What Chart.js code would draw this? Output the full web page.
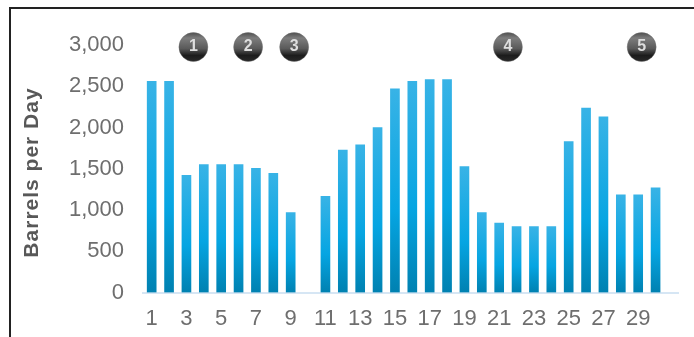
<!DOCTYPE html>
<html>
<head>
<meta charset="utf-8">
<script src="https://cdn.jsdelivr.net/npm/chart.js@4"></script>
<style>
    html, body { margin: 0; padding: 0; background: #fff; overflow: hidden; }
    #wrap { position: relative; width: 694px; height: 337px; overflow: hidden; }
    #frame { position: absolute; left: 9px; top: 7px; width: 800px; height: 500px; border: 2px solid #222; box-sizing: border-box; }
    #chart { position: absolute; left: 0; top: 0; }
</style>
</head>
<body>
<div id="wrap">
    <div id="frame"></div>
    <canvas id="chart" width="694" height="337"></canvas>
</div>
<script>
// Barrels per day by day of month, with five numbered event markers

const days = [1, 2, 3, 4, 5, 6, 7, 8, 9, 10, 11, 12, 13, 14, 15, 16,
    17, 18, 19, 20, 21, 22, 23, 24, 25, 26, 27, 28, 29, 30];
const barrels = [2560, 2560, 1420, 1550, 1550, 1550, 1505, 1445, 970, null, 1165, 1725,
    1790, 2000, 2470, 2560, 2580, 2580, 1525, 970, 840, 800, 800, 800, 1830, 2235, 2130,
    1185, 1185, 1270];
const xTicks = [1, 3, 5, 7, 9, 11, 13, 15, 17, 19, 21, 23, 25, 27, 29];
const yTicks = [0, 500, 1000, 1500, 2000, 2500, 3000];
const yTitle = 'Barrels per Day';
const eventLabels = ['1', '2', '3', '4', '5'];
const eventDays = [3.4, 6.55, 9.2, 21.5, 29.2];
const eventLevels = [2975, 2975, 2975, 2975, 2975];

function barGradient(context) {
    const chart = context.chart;
    const yScale = chart.scales.y;
    if (!yScale || !context.parsed || context.parsed.y == null) return '#09a4e0';
    const top = yScale.getPixelForValue(context.parsed.y);
    const bottom = yScale.getPixelForValue(0);
    if (!Number.isFinite(top) || !Number.isFinite(bottom)) return '#09a4e0';
    const g = chart.ctx.createLinearGradient(0, top, 0, bottom);
    g.addColorStop(0, '#38b3e6');
    g.addColorStop(0.6, '#06a5e2');
    g.addColorStop(1, '#0081b1');
    return g;
}

function ballGradient(context) {
    const chart = context.chart;
    const yScale = chart.scales.y;
    if (!yScale || !context.parsed) return '#333';
    const y = yScale.getPixelForValue(context.parsed.y);
    if (!Number.isFinite(y)) return '#333';
    const g = chart.ctx.createLinearGradient(0, y - 15, 0, y + 15);
    g.addColorStop(0, '#4a4a4a');
    g.addColorStop(0.2, '#7d7d7d');
    g.addColorStop(0.55, '#5a5a5a');
    g.addColorStop(0.78, '#1c1c1c');
    g.addColorStop(1, '#2a2a2a');
    return g;
}

// digits on the event balls and the spaced out axis title
const chartText = {
    id: 'chartText',
    afterDatasetsDraw(chart) {
        const ctx = chart.ctx;
        const points = chart.getDatasetMeta(1).data;
        ctx.save();
        ctx.font = 'bold 16px "Liberation Sans"';
        ctx.fillStyle = '#dedede';
        ctx.textAlign = 'center';
        ctx.textBaseline = 'middle';
        points.forEach((p, i) => ctx.fillText(eventLabels[i], p.x, p.y));
        ctx.restore();

        ctx.save();
        ctx.translate(32, 172.5);
        ctx.rotate(-Math.PI / 2);
        ctx.font = 'bold 21px "Liberation Sans"';
        ctx.letterSpacing = '1px';
        ctx.fillStyle = '#585858';
        ctx.textAlign = 'center';
        ctx.textBaseline = 'middle';
        ctx.fillText(yTitle, 0, 0);
        ctx.restore();
    }
};

new Chart(document.getElementById('chart'), {
    data: {
        datasets: [{
            type: 'bar',
            data: days.map((d, i) => ({ x: d, y: barrels[i] })),
            backgroundColor: barGradient,
            barThickness: 9,
            order: 2
        }, {
            type: 'scatter',
            data: eventDays.map((d, i) => ({ x: d, y: eventLevels[i] })),
            pointRadius: 14.5,
            pointBackgroundColor: ballGradient,
            pointBorderColor: 'rgba(110, 110, 110, 0.4)',
            pointBorderWidth: 1,
            clip: false,
            order: 1
        }]
    },
    plugins: [chartText],
    options: {
        responsive: false,
        animation: false,
        layout: { padding: { top: 45, right: 13, bottom: 0, left: 0 } },
        plugins: { legend: { display: false }, tooltip: { enabled: false } },
        scales: {
            x: {
                type: 'linear',
                offset: false,
                min: 0.5,
                max: 31.32,
                afterBuildTicks(scale) { scale.ticks = xTicks.map(v => ({ value: v })); },
                grid: { display: false },
                border: { color: '#d6e6f4', width: 2 },
                ticks: {
                    autoSkip: false,
                    maxRotation: 0,
                    padding: 5,
                    color: '#6e6e6e',
                    font: { family: '"Liberation Sans"', size: 22 },
                    callback: v => String(v)
                },
                afterFit(scale) { scale.height = 44.5; }
            },
            y: {
                min: 0,
                max: 3000,
                afterBuildTicks(scale) { scale.ticks = yTicks.map(v => ({ value: v })); },
                grid: { display: false },
                border: { display: false },
                ticks: {
                    padding: 11,
                    color: '#6e6e6e',
                    font: { family: '"Liberation Sans"', size: 22 },
                    callback: v => v.toLocaleString('en-US')
                },
                afterFit(scale) { scale.width = 143; }
            }
        }
    }
});
</script>
</body>
</html>
